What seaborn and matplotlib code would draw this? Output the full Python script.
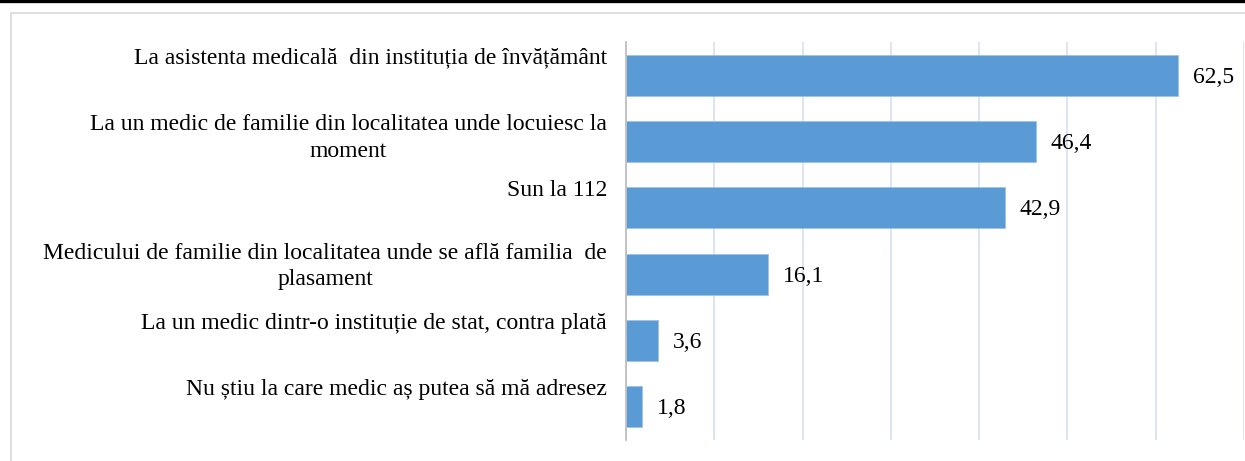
import matplotlib
matplotlib.use('Agg')
import matplotlib.pyplot as plt
import matplotlib.transforms as mtransforms
from matplotlib.patches import Rectangle
from matplotlib.lines import Line2D
import seaborn as sns
import pandas as pd

# Data
categories = [
    "La asistenta medicală  din instituția de învățământ",
    "La un medic de familie din localitatea unde locuiesc la\nmoment",
    "Sun la 112",
    "Medicului de familie din localitatea unde se află familia  de\nplasament",
    "La un medic dintr-o instituție de stat, contra plată",
    "Nu știu la care medic aș putea să mă adresez",
]
values = [62.5, 46.4, 42.9, 16.1, 3.6, 1.8]

# extra upward shift (px) of some labels, as laid out in the original
label_raise = [0, 0, 0, 4, 0, 0]

df = pd.DataFrame({'raspuns': categories, 'procent': values})

sns.set_style('white')
plt.rcParams['font.family'] = ['Liberation Serif', 'DejaVu Serif']

fig = plt.figure(figsize=(12.45, 4.61), dpi=100)
ax = fig.add_axes([626 / 1245, 1 - 440 / 461, 618 / 1245, 398 / 461])

sns.barplot(data=df, x='procent', y='raspuns', order=categories,
            color='#5B9BD5', saturation=1, width=0.62, ax=ax,
            edgecolor='#9DC3E6', linewidth=0.6)

ax.set_xlim(0, 70)
ax.set_ylim(5.5, -0.5)
ax.set_xticks(range(0, 71, 10))
ax.set_xticklabels([])
ax.set_yticks([])
ax.set_xlabel('')
ax.set_ylabel('')
ax.tick_params(length=0)

# Vertical gridlines
ax.grid(axis='x', color='#DAE3F3', linewidth=1.3)
ax.set_axisbelow(True)

for side in ['top', 'right', 'bottom']:
    ax.spines[side].set_visible(False)
ax.spines['left'].set_color('#BFBFBF')
ax.spines['left'].set_linewidth(1.3)
ax.spines['left'].set_zorder(3)

FS = 17

# Category labels: top of first line a bit above the bar
label_base = mtransforms.blended_transform_factory(ax.transAxes, ax.transData)
for i, cat in enumerate(categories):
    off = mtransforms.ScaledTranslation(-19 / 100, (27.5 + label_raise[i]) / 100,
                                        fig.dpi_scale_trans)
    ax.text(0, i, cat, transform=label_base + off, ha='right', va='top',
            multialignment='center', fontsize=FS, color='#000000',
            linespacing=1.35)

# Value labels next to bars
value_offset = mtransforms.ScaledTranslation(15 / 100, -2 / 100, fig.dpi_scale_trans)
for i, v in enumerate(values):
    ax.text(v, i, f"{v:.1f}".replace('.', ','),
            transform=ax.transData + value_offset,
            ha='left', va='center', fontsize=FS, color='#000000')

# Chart area border and top rule
fig.patches.append(Rectangle((11 / 1245, -0.1), 1.2, 1 - 13 / 461 + 0.1,
                             transform=fig.transFigure, fill=False,
                             edgecolor='#D9D9D9', linewidth=1.2))
fig.lines.append(Line2D([0, 1], [1 - 1.5 / 461, 1 - 1.5 / 461],
                        transform=fig.transFigure, color='black', linewidth=2.4))

fig.savefig('out.png', dpi=100)
plt.close(fig)
